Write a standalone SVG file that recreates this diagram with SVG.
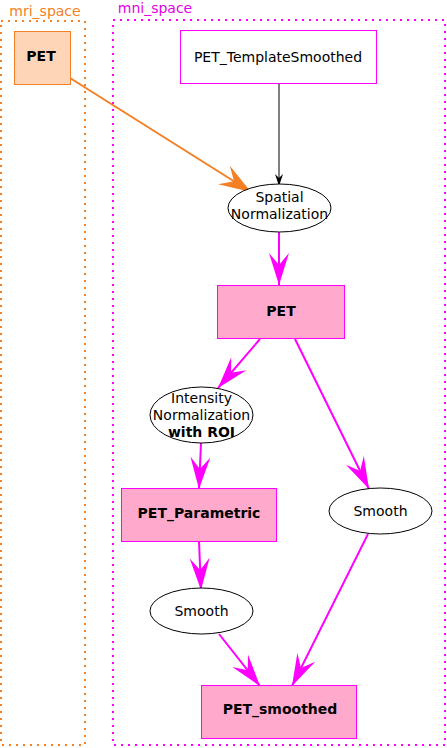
<svg xmlns="http://www.w3.org/2000/svg" width="447" height="748" viewBox="0 0 447 748">
<style>
text{font-family:"DejaVu Sans","Liberation Sans",sans-serif;font-size:14px;text-anchor:middle;fill:#000}
.b{font-weight:bold}
.cl{fill:none;stroke-width:2;stroke-dasharray:2 5}
.ell{fill:#fff;stroke:#000;stroke-width:1}
.pk{fill:#ffaacc;stroke:#ff00ff;stroke-width:1}
.e{fill:none;stroke:#ff00ff;stroke-width:2}
</style>
<defs>
<marker id="vm" markerUnits="userSpaceOnUse" markerWidth="34" markerHeight="22" refX="32" refY="11" orient="auto" viewBox="0 0 34 22">
<path d="M0,1 L32,11 L0,21 L12,11 Z" fill="#ff00ff"/>
</marker>
<marker id="vo" markerUnits="userSpaceOnUse" markerWidth="34" markerHeight="24" refX="32" refY="12" orient="auto" viewBox="0 0 34 24">
<path d="M0,1 L32,12 L0,23 L12,12 Z" fill="#f47f24"/>
</marker>
<marker id="vb" markerUnits="userSpaceOnUse" markerWidth="14" markerHeight="10" refX="12" refY="5" orient="auto" viewBox="0 0 14 10">
<path d="M0,1 L12,5 L0,9 L4,5 Z" fill="#000"/>
</marker>
</defs>
<g id="cluster_mri">
<rect class="cl" x="1" y="21" width="84" height="724" stroke="#f47f24"/>
<text x="45" y="16" style="fill:#f47f24">mri_space</text>
</g>
<g id="cluster_mni">
<rect class="cl" x="113" y="20" width="332" height="725" stroke="#ff00ff"/>
<text x="155" y="12.5" style="fill:#e600e6">mni_space</text>
</g>
<g id="edges">
<path d="M70,78 L251,192" fill="none" stroke="#f47f24" stroke-width="2" marker-end="url(#vo)"/>
<path d="M279,83 L279,186" fill="none" stroke="#000" stroke-width="1" marker-end="url(#vb)"/>
<path class="e" d="M279,232 L279,285" marker-end="url(#vm)"/>
<path class="e" d="M260,339 L218,388" marker-end="url(#vm)"/>
<path class="e" d="M295,339 L369,489" marker-end="url(#vm)"/>
<path class="e" d="M201,443 L199,489" marker-end="url(#vm)"/>
<path class="e" d="M199,541 L201,590" marker-end="url(#vm)"/>
<path class="e" d="M219,634 L260,686" marker-end="url(#vm)"/>
<path class="e" d="M368,534 L292,686" marker-end="url(#vm)"/>
</g>
<g id="pet_mri">
<rect x="14.5" y="31.5" width="56" height="53" fill="#ffd5b8" stroke="#f47f24"/>
<text class="b" x="41" y="61">PET</text>
</g>
<g id="template">
<rect x="180.5" y="30.5" width="196" height="53" fill="#fff" stroke="#ff00ff"/>
<text x="278" y="62">PET_TemplateSmoothed</text>
</g>
<g id="spatial">
<ellipse class="ell" cx="279.5" cy="208" rx="51.5" ry="24"/>
<text x="279.5" y="202">Spatial</text>
<text x="279.5" y="219">Normalization</text>
</g>
<g id="pet_mni">
<rect class="pk" x="217.5" y="285.5" width="127" height="53"/>
<text class="b" x="281" y="316">PET</text>
</g>
<g id="intensity">
<ellipse class="ell" cx="201.5" cy="415" rx="51.5" ry="28"/>
<text x="201.5" y="403">Intensity</text>
<text x="201.5" y="420">Normalization</text>
<text class="b" x="201.5" y="437">with ROI</text>
</g>
<g id="pet_parametric">
<rect class="pk" x="121.5" y="488.5" width="155" height="53"/>
<text class="b" x="199" y="518">PET_Parametric</text>
</g>
<g id="smooth_r">
<ellipse class="ell" cx="380.5" cy="511" rx="51.5" ry="23"/>
<text x="380.5" y="516">Smooth</text>
</g>
<g id="smooth_l">
<ellipse class="ell" cx="201.5" cy="611" rx="51.5" ry="23"/>
<text x="201.5" y="616">Smooth</text>
</g>
<g id="pet_smoothed">
<rect class="pk" x="201.5" y="685.5" width="155" height="53"/>
<text class="b" x="280" y="714">PET_smoothed</text>
</g>
</svg>
